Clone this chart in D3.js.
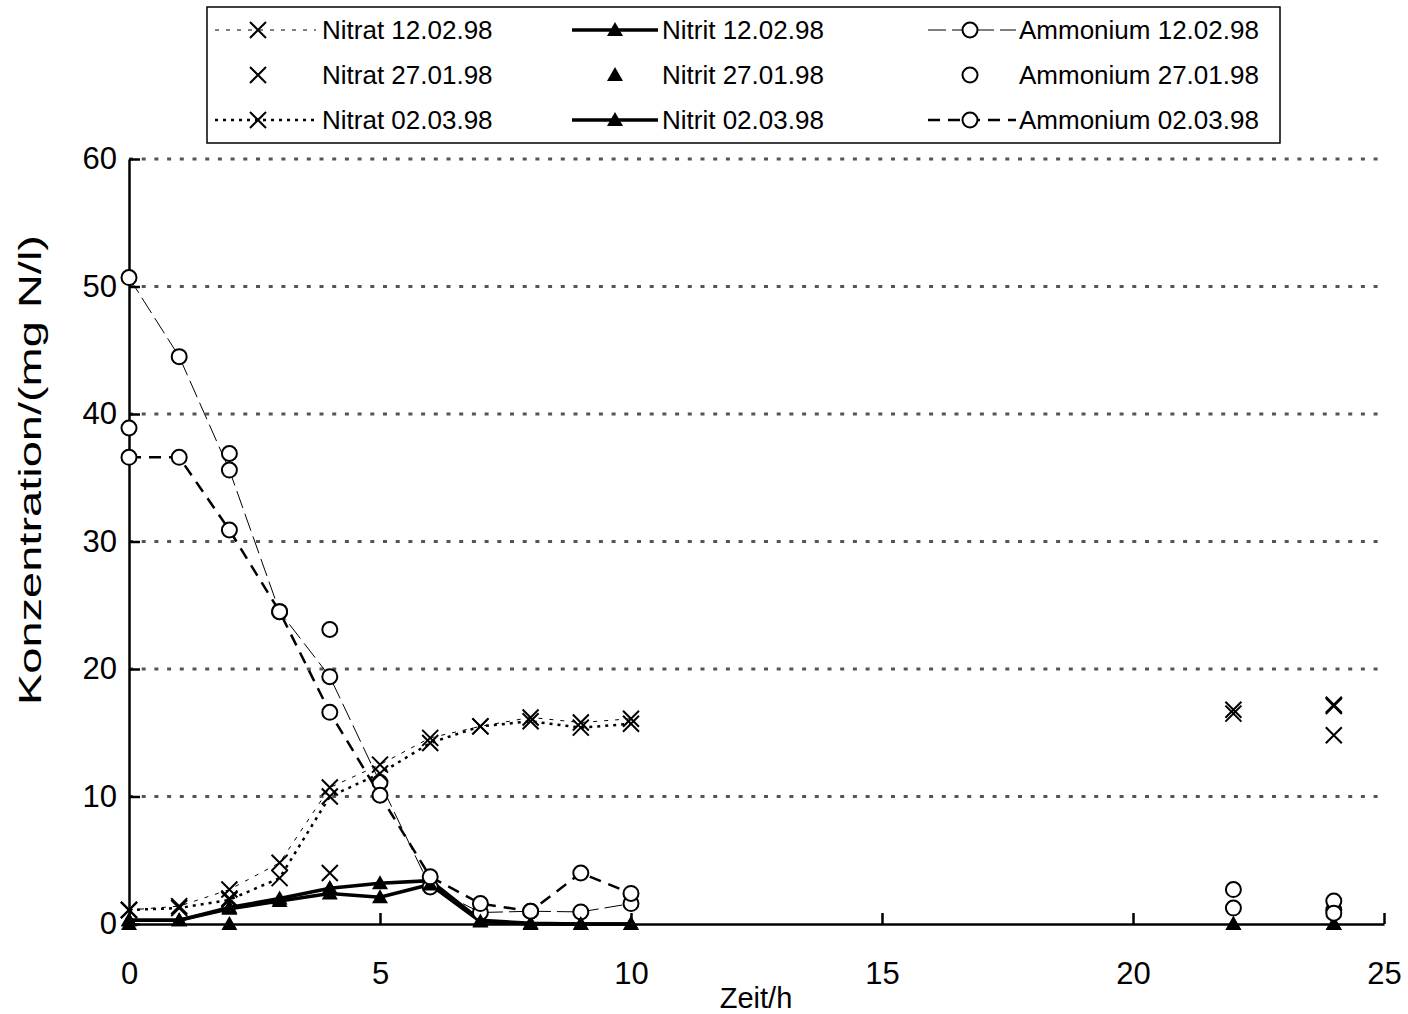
<!DOCTYPE html>
<html>
<head>
<meta charset="utf-8">
<script src="https://cdn.jsdelivr.net/npm/d3@7"></script>
<style>
  body { margin: 0; background: #fff; }
  text { font-family: "Liberation Sans", Arial, sans-serif; fill: #000; }
</style>
</head>
<body>
<div id="chart"></div>
<script>
// sampling times (h)
const times = [0, 1, 2, 3, 4, 5, 6, 7, 8, 9, 10, 22, 24];
const times2701 = [0, 2, 4, 22, 24];

// values, mg N/l
const nitrat1202 = [1.1, 1.4, 2.7, 4.8, 10.7, 12.5, 14.6, 15.5, 16.2, 15.8, 16.1, 16.8, 17.2];
const nitrat2701 = [1.1, 2.0, 4.0, 16.5, 14.8];
const nitrat0203 = [1.1, 1.25, 1.9, 3.6, 10.0, 11.8, 14.2, 15.5, 15.9, 15.4, 15.7, null, 17.1];

const nitrit1202 = [0.3, 0.3, 1.3, 2.0, 2.8, 3.2, 3.4, 0.3, 0.05, 0, 0, 0, 0];
const nitrit2701 = [0, 0, 2.8, 0, 0];
const nitrit0203 = [0.3, 0.3, 1.2, 1.8, 2.4, 2.1, 3.1, 0.2, 0, 0, 0, null, 0];

const ammonium1202 = [50.7, 44.5, 35.6, 24.5, 19.4, 11.1, 2.9, 0.9, 1.0, 0.95, 1.6, 1.25, 1.1];
const ammonium2701 = [38.9, 36.9, 23.1, 2.7, 1.8];
const ammonium0203 = [36.6, 36.6, 30.9, 24.5, 16.6, 10.1, 3.7, 1.6, 1.0, 4.0, 2.4, null, 0.85];

const xTicks = [0, 5, 10, 15, 20, 25];
const yTicks = [0, 10, 20, 30, 40, 50, 60];

// styles per series
const lineStyles = {
  nitratThin: { width: 1, dash: '4,7' },
  nitratDot: { width: 2.5, dash: '3,5' },
  nitrit: { width: 3.5, dash: null },
  ammThin: { width: 1, dash: '18,6' },
  ammDash: { width: 2.5, dash: '12,8' }
};

const series = [
  { name: 'Nitrat 12.02.98', t: times, v: nitrat1202, marker: 'x', line: lineStyles.nitratThin },
  { name: 'Nitrit 12.02.98', t: times, v: nitrit1202, marker: 'tri', line: lineStyles.nitrit },
  { name: 'Ammonium 12.02.98', t: times, v: ammonium1202, marker: 'circle', line: lineStyles.ammThin },
  { name: 'Nitrat 27.01.98', t: times2701, v: nitrat2701, marker: 'x', line: null },
  { name: 'Nitrit 27.01.98', t: times2701, v: nitrit2701, marker: 'tri', line: null },
  { name: 'Ammonium 27.01.98', t: times2701, v: ammonium2701, marker: 'circle', line: null },
  { name: 'Nitrat 02.03.98', t: times, v: nitrat0203, marker: 'x', line: lineStyles.nitratDot },
  { name: 'Nitrit 02.03.98', t: times, v: nitrit0203, marker: 'tri', line: lineStyles.nitrit },
  { name: 'Ammonium 02.03.98', t: times, v: ammonium0203, marker: 'circle', line: lineStyles.ammDash }
];

const width = 1408;
const height = 1014;

const svg = d3.select('#chart')
  .append('svg')
  .attr('width', width)
  .attr('height', height);

const x = d3.scaleLinear().domain([0, 25]).range([129, 1384]);
const y = d3.scaleLinear().domain([0, 60]).range([924, 159]);

// gridlines
svg.append('g')
  .selectAll('line')
  .data(yTicks.filter(d => d > 0))
  .enter()
  .append('line')
  .attr('x1', x(0))
  .attr('x2', x(25))
  .attr('y1', d => y(d))
  .attr('y2', d => y(d))
  .attr('stroke', '#555')
  .attr('stroke-width', 3)
  .attr('stroke-dasharray', '4,8.7');

// axes
const xAxis = svg.append('g')
  .attr('transform', `translate(0,${y(0)})`)
  .call(d3.axisBottom(x).tickValues(xTicks).tickSizeInner(-11).tickSizeOuter(0).tickPadding(38));

const yAxis = svg.append('g')
  .attr('transform', `translate(${x(0)},0)`)
  .call(d3.axisLeft(y).tickValues(yTicks).tickSizeInner(-11).tickSizeOuter(0).tickPadding(12));

[xAxis, yAxis].forEach(a => {
  a.select('.domain').attr('stroke', '#000').attr('stroke-width', 2.5);
  a.selectAll('.tick line').attr('stroke', '#000').attr('stroke-width', 2.5);
  a.selectAll('.tick text')
    .attr('font-size', '31px')
    .attr('font-family', '"Liberation Sans", Arial, sans-serif')
    .attr('fill', '#000');
});

// axis titles
svg.append('text')
  .attr('x', 756)
  .attr('y', 1008)
  .attr('text-anchor', 'middle')
  .attr('font-size', '29px')
  .text('Zeit/h');

svg.append('text')
  .attr('transform', 'translate(41,705) rotate(-90)')
  .attr('font-size', '31px')
  .attr('textLength', 470)
  .attr('lengthAdjust', 'spacingAndGlyphs')
  .text('Konzentration/(mg N/l)');

// markers
function drawMarker(g, type, cx, cy) {
  if (type === 'x') {
    g.append('path')
      .attr('d', `M${cx - 8},${cy - 8}L${cx + 8},${cy + 8}M${cx - 8},${cy + 8}L${cx + 8},${cy - 8}`)
      .attr('stroke', '#000')
      .attr('stroke-width', 2)
      .attr('fill', 'none');
  } else if (type === 'tri') {
    g.append('path')
      .attr('d', `M${cx},${cy - 8}L${cx + 8},${cy + 6}L${cx - 8},${cy + 6}Z`)
      .attr('fill', '#000');
  } else {
    g.append('circle')
      .attr('cx', cx)
      .attr('cy', cy)
      .attr('r', 7.5)
      .attr('fill', '#fff')
      .attr('stroke', '#000')
      .attr('stroke-width', 2);
  }
}

function applyLine(sel, st) {
  sel.attr('fill', 'none')
    .attr('stroke', '#000')
    .attr('stroke-width', st.width)
    .attr('stroke-dasharray', st.dash);
}

const line = d3.line()
  .defined(d => d.v !== null)
  .x(d => x(d.t))
  .y(d => y(d.v));

// only consecutive hours are joined, the later samples stand alone
function runs(s) {
  const pts = s.t.map((t, i) => ({ t: t, v: s.v[i] })).filter(d => d.v !== null);
  const out = [];
  let cur = [];
  pts.forEach((p, i) => {
    if (i > 0 && p.t - pts[i - 1].t !== 1) {
      out.push(cur);
      cur = [];
    }
    cur.push(p);
  });
  out.push(cur);
  return out.filter(r => r.length > 1);
}

const lines = svg.append('g');
series.filter(s => s.line).forEach(s => {
  runs(s).forEach(r => {
    lines.append('path')
      .datum(r)
      .attr('d', line)
      .call(applyLine, s.line);
  });
});

const marks = svg.append('g');
series.forEach(s => {
  s.t.forEach((t, i) => {
    if (s.v[i] !== null) drawMarker(marks, s.marker, x(t), y(s.v[i]));
  });
});

// legend
const legend = svg.append('g');
legend.append('rect')
  .attr('x', 207)
  .attr('y', 7)
  .attr('width', 1073)
  .attr('height', 136)
  .attr('fill', '#fff')
  .attr('stroke', '#000')
  .attr('stroke-width', 1.5);

const colX = [{ l: 215, r: 316, m: 258, tx: 322 }, { l: 572, r: 658, m: 615, tx: 662 }, { l: 928, r: 1016, m: 970, tx: 1019 }];
const rowY = [30, 75, 120];

series.forEach((s, i) => {
  const c = colX[i % 3];
  const ry = rowY[Math.floor(i / 3)];
  if (s.line) {
    legend.append('line')
      .attr('x1', c.l)
      .attr('x2', c.r)
      .attr('y1', ry)
      .attr('y2', ry)
      .call(applyLine, s.line);
  }
  drawMarker(legend, s.marker, c.m, ry);
  legend.append('text')
    .attr('x', c.tx)
    .attr('y', ry + 9)
    .attr('font-size', '26px')
    .text(s.name);
});
</script>
</body>
</html>
